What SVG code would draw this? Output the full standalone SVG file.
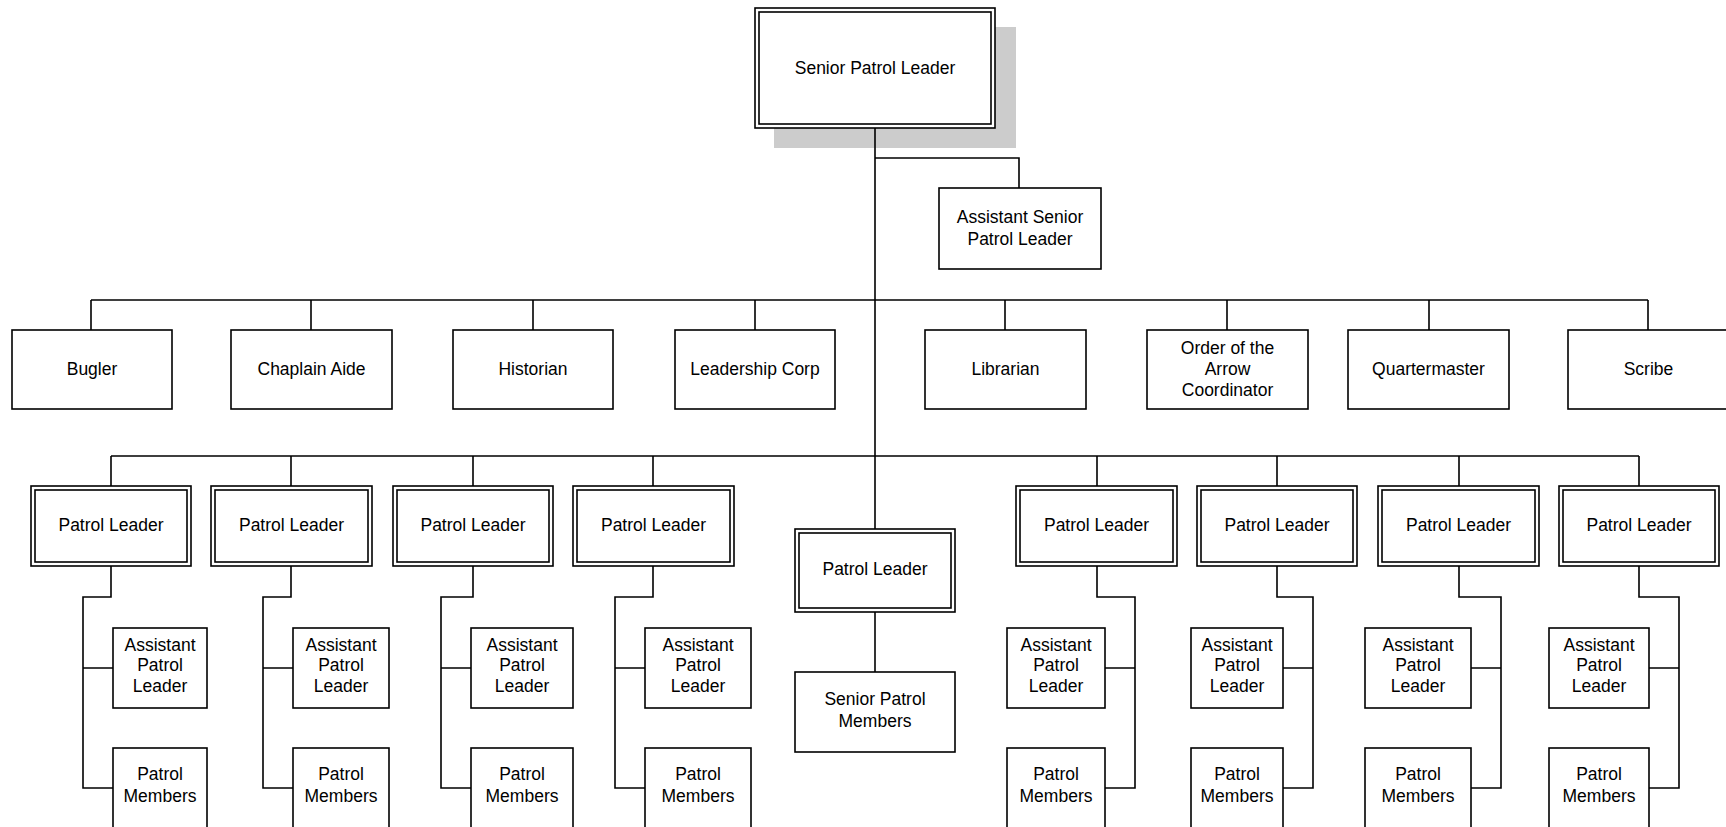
<svg xmlns="http://www.w3.org/2000/svg" width="1726" height="827" viewBox="0 0 1726 827">
<style>
.b{fill:#fff;stroke:#000;stroke-width:1.6}
.i{fill:none;stroke:#000;stroke-width:1.6}
.c{fill:none;stroke:#000;stroke-width:1.6}
text{font-family:"Liberation Sans",Arial,sans-serif;font-size:17.5px;fill:#000;text-anchor:middle}
</style>
<rect width="1726" height="827" fill="#fff"/>
<g id="spl-shadow"><rect x="774" y="27" width="242" height="121" fill="#cccccc"/></g>
<g id="connectors">
<path class="c" d="M875,128V529M875,158H1019V188M91,300H1648M111,456H1639"/>
<path class="c" d="M91,300V330M311,300V330M533,300V330M755,300V330M1005,300V330M1227,300V330M1429,300V330M1648,300V330"/>
<path class="c" d="M111,456V486M291,456V486M473,456V486M653,456V486M1097,456V486M1277,456V486M1459,456V486M1639,456V486"/>
<path class="c" d="M875,612V672"/>
<path class="c" d="M111,566V597H83V788H113M83,668H113"/>
<path class="c" d="M291,566V597H263V788H293M263,668H293"/>
<path class="c" d="M473,566V597H441V788H471M441,668H471"/>
<path class="c" d="M653,566V597H615V788H645M615,668H645"/>
<path class="c" d="M1097,566V597H1135V788H1105M1135,668H1105"/>
<path class="c" d="M1277,566V597H1313V788H1283M1313,668H1283"/>
<path class="c" d="M1459,566V597H1501V788H1471M1501,668H1471"/>
<path class="c" d="M1639,566V597H1679V788H1649M1679,668H1649"/>
</g>
<g id="spl">
<rect class="b" x="755" y="8" width="240" height="120"/>
<rect class="i" x="759" y="12" width="232" height="112"/>
<text x="875" y="74">Senior Patrol Leader</text>
</g>
<g id="aspl"><rect class="b" x="939" y="188" width="162" height="81"/><text x="1020" y="223">Assistant Senior</text><text x="1020" y="245">Patrol Leader</text></g>
<g id="bugler"><rect class="b" x="12" y="330" width="160" height="79"/><text x="92" y="375">Bugler</text></g>
<g id="chaplain"><rect class="b" x="231" y="330" width="161" height="79"/><text x="311.5" y="375">Chaplain Aide</text></g>
<g id="historian"><rect class="b" x="453" y="330" width="160" height="79"/><text x="533" y="375">Historian</text></g>
<g id="leadership"><rect class="b" x="675" y="330" width="160" height="79"/><text x="755" y="375">Leadership Corp</text></g>
<g id="librarian"><rect class="b" x="925" y="330" width="161" height="79"/><text x="1005.5" y="375">Librarian</text></g>
<g id="oa"><rect class="b" x="1147" y="330" width="161" height="79"/><text x="1227.5" y="354">Order of the</text><text x="1227.5" y="375">Arrow</text><text x="1227.5" y="396">Coordinator</text></g>
<g id="quartermaster"><rect class="b" x="1348" y="330" width="161" height="79"/><text x="1428.5" y="375">Quartermaster</text></g>
<g id="scribe"><rect class="b" x="1568" y="330" width="161" height="79"/><text x="1648.5" y="375">Scribe</text></g>
<g id="pl1"><rect class="b" x="31" y="486" width="160" height="80"/><rect class="i" x="35" y="490" width="152" height="72"/><text x="111" y="531">Patrol Leader</text></g>
<g id="pl2"><rect class="b" x="211" y="486" width="161" height="80"/><rect class="i" x="215" y="490" width="153" height="72"/><text x="291.5" y="531">Patrol Leader</text></g>
<g id="pl3"><rect class="b" x="393" y="486" width="160" height="80"/><rect class="i" x="397" y="490" width="152" height="72"/><text x="473" y="531">Patrol Leader</text></g>
<g id="pl4"><rect class="b" x="573" y="486" width="161" height="80"/><rect class="i" x="577" y="490" width="153" height="72"/><text x="653.5" y="531">Patrol Leader</text></g>
<g id="plc"><rect class="b" x="795" y="529" width="160" height="83"/><rect class="i" x="799" y="533" width="152" height="75"/><text x="875" y="575">Patrol Leader</text></g>
<g id="pl6"><rect class="b" x="1016" y="486" width="161" height="80"/><rect class="i" x="1020" y="490" width="153" height="72"/><text x="1096.5" y="531">Patrol Leader</text></g>
<g id="pl7"><rect class="b" x="1197" y="486" width="160" height="80"/><rect class="i" x="1201" y="490" width="152" height="72"/><text x="1277" y="531">Patrol Leader</text></g>
<g id="pl8"><rect class="b" x="1378" y="486" width="161" height="80"/><rect class="i" x="1382" y="490" width="153" height="72"/><text x="1458.5" y="531">Patrol Leader</text></g>
<g id="pl9"><rect class="b" x="1559" y="486" width="160" height="80"/><rect class="i" x="1563" y="490" width="152" height="72"/><text x="1639" y="531">Patrol Leader</text></g>
<g id="spm"><rect class="b" x="795" y="672" width="160" height="80"/><text x="875" y="705">Senior Patrol</text><text x="875" y="727">Members</text></g>
<g id="apl1"><rect class="b" x="113" y="628" width="94" height="80"/><text x="160" y="651">Assistant</text><text x="160" y="671">Patrol</text><text x="160" y="692">Leader</text></g>
<g id="pm1"><rect class="b" x="113" y="748" width="94" height="82"/><text x="160" y="780">Patrol</text><text x="160" y="802">Members</text></g>
<g id="apl2"><rect class="b" x="293" y="628" width="96" height="80"/><text x="341" y="651">Assistant</text><text x="341" y="671">Patrol</text><text x="341" y="692">Leader</text></g>
<g id="pm2"><rect class="b" x="293" y="748" width="96" height="82"/><text x="341" y="780">Patrol</text><text x="341" y="802">Members</text></g>
<g id="apl3"><rect class="b" x="471" y="628" width="102" height="80"/><text x="522" y="651">Assistant</text><text x="522" y="671">Patrol</text><text x="522" y="692">Leader</text></g>
<g id="pm3"><rect class="b" x="471" y="748" width="102" height="82"/><text x="522" y="780">Patrol</text><text x="522" y="802">Members</text></g>
<g id="apl4"><rect class="b" x="645" y="628" width="106" height="80"/><text x="698" y="651">Assistant</text><text x="698" y="671">Patrol</text><text x="698" y="692">Leader</text></g>
<g id="pm4"><rect class="b" x="645" y="748" width="106" height="82"/><text x="698" y="780">Patrol</text><text x="698" y="802">Members</text></g>
<g id="apl6"><rect class="b" x="1007" y="628" width="98" height="80"/><text x="1056" y="651">Assistant</text><text x="1056" y="671">Patrol</text><text x="1056" y="692">Leader</text></g>
<g id="pm6"><rect class="b" x="1007" y="748" width="98" height="82"/><text x="1056" y="780">Patrol</text><text x="1056" y="802">Members</text></g>
<g id="apl7"><rect class="b" x="1191" y="628" width="92" height="80"/><text x="1237" y="651">Assistant</text><text x="1237" y="671">Patrol</text><text x="1237" y="692">Leader</text></g>
<g id="pm7"><rect class="b" x="1191" y="748" width="92" height="82"/><text x="1237" y="780">Patrol</text><text x="1237" y="802">Members</text></g>
<g id="apl8"><rect class="b" x="1365" y="628" width="106" height="80"/><text x="1418" y="651">Assistant</text><text x="1418" y="671">Patrol</text><text x="1418" y="692">Leader</text></g>
<g id="pm8"><rect class="b" x="1365" y="748" width="106" height="82"/><text x="1418" y="780">Patrol</text><text x="1418" y="802">Members</text></g>
<g id="apl9"><rect class="b" x="1549" y="628" width="100" height="80"/><text x="1599" y="651">Assistant</text><text x="1599" y="671">Patrol</text><text x="1599" y="692">Leader</text></g>
<g id="pm9"><rect class="b" x="1549" y="748" width="100" height="82"/><text x="1599" y="780">Patrol</text><text x="1599" y="802">Members</text></g>
</svg>
